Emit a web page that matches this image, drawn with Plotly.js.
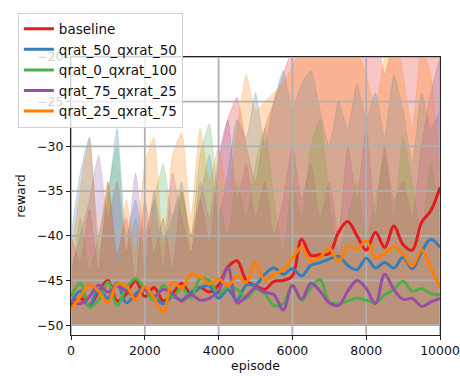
<!DOCTYPE html>
<html>
<head>
<meta charset="utf-8">
<script src="https://cdn.plot.ly/plotly-3.0.1.min.js"></script>
<style>html,body{margin:0;padding:0;background:#fff;}#chart{width:460px;height:377px;}</style>
</head>
<body>
<div id="chart"></div>
<script>
const episodes = [0,250,500,750,1000,1250,1500,1750,2000,2250,2500,2750,3000,3250,3500,3750,4000,4250,4500,4750,5000,5250,5500,5750,6000,6250,6500,6750,7000,7250,7500,7750,8000,8250,8500,8750,9000,9250,9500,9750,10000];

const seriesNames = ["baseline","qrat_50_qxrat_50","qrat_0_qxrat_100","qrat_75_qxrat_25","qrat_25_qxrat_75"];

const baselineMean = [-47.8,-47.0,-47.8,-46.2,-45.0,-47.3,-46.5,-45.0,-46.8,-45.8,-47.3,-46.5,-45.3,-46.5,-45.8,-46.3,-45.5,-43.5,-42.8,-45.0,-45.6,-46.0,-45.1,-45.0,-44.5,-40.4,-42.2,-42.1,-42.0,-39.6,-38.4,-40.0,-41.6,-39.6,-41.3,-38.9,-41.0,-41.6,-38.5,-37.2,-34.6];
const q50Mean = [-47.5,-46.2,-47.8,-46.0,-47.0,-45.3,-47.5,-46.5,-45.8,-46.8,-47.6,-46.8,-47.2,-46.3,-45.8,-45.6,-47.0,-46.0,-47.2,-45.5,-45.5,-44.3,-43.6,-44.3,-43.7,-44.5,-43.3,-43.0,-42.6,-42.3,-43.3,-43.8,-42.5,-43.6,-43.0,-43.6,-42.4,-43.7,-41.8,-40.4,-41.3];
const q0Mean = [-46.8,-45.3,-48.0,-47.2,-45.2,-47.8,-45.8,-44.8,-46.0,-47.2,-45.6,-46.8,-45.8,-47.0,-44.8,-45.0,-46.5,-45.7,-46.0,-47.0,-46.0,-46.5,-47.8,-47.6,-45.5,-47.2,-45.8,-44.9,-47.4,-47.6,-47.3,-47.0,-47.2,-47.5,-46.6,-46.0,-45.1,-46.2,-45.9,-46.5,-46.6];
const q75Mean = [-47.2,-47.6,-46.8,-45.5,-46.3,-45.6,-46.2,-46.8,-46.0,-46.8,-46.0,-46.5,-47.3,-46.6,-47.2,-47.0,-46.2,-43.5,-47.5,-46.8,-45.8,-46.3,-46.6,-48.3,-45.6,-47.1,-45.3,-46.2,-47.5,-47.8,-46.2,-45.0,-45.9,-47.6,-44.3,-46.0,-47.1,-47.0,-47.9,-47.4,-47.0];
const q25Mean = [-48.2,-46.8,-45.4,-46.2,-47.5,-45.4,-45.6,-47.2,-45.7,-47.0,-48.6,-45.2,-45.8,-44.3,-44.6,-45.4,-44.8,-45.6,-44.5,-45.2,-43.0,-45.0,-44.3,-43.8,-42.5,-41.3,-42.8,-42.4,-41.4,-42.9,-41.2,-41.5,-40.6,-42.4,-42.0,-41.2,-42.0,-43.4,-41.6,-43.6,-45.8];

const baselineMax = [-40,-43,-37,-44,-34,-42,-38,-45,-36,-42,-38,-44,-35,-40,-36,-41,-32,-27,-24.5,-30,-34,-28,-25,-22,-19,-17,-19,-16,-18,-15,-19,-16,-19,-17,-22,-18,-16,-19,-17,-15,-18];
const q50Max = [-40,-33,-29,-42,-36,-28,-40,-36,-42,-35,-40.4,-38,-34,-42,-36,-31,-38,-33,-27,-29,-24,-30,-25,-21.5,-26,-23,-21.5,-26,-30,-25,-28,-23,-27,-24,-29,-22,-26,-32,-24,-28,-26];
const q0Max = [-46,-38,-44,-40,-35,-30,-42,-38,-44,-36,-32,-38,-35,-40,-31,-27.5,-36,-40,-34,-38,-32,-28,-36,-42,-34,-38,-30,-27,-36,-42,-38,-34,-40,-36,-31,-38,-29,-34,-40,-32,-38];
const q75Max = [-44,-40,-36,-31,-38,-34,-42,-33,-40,-36,-44,-33,-38,-42,-34,-38,-31,-27,-36,-32,-38,-34,-40,-36,-30,-36,-32,-38,-34,-40,-30,-36,-28,-38,-30,-36,-34,-38,-30,-24,-20];
const q25Max = [-42,-35,-29,-40,-34,-44,-36,-42,-32,-29,-42,-31,-28.5,-38,-28,-34,-30,-36,-28,-22,-26,-25,-24,-23,-21,-19,-17,-18,-16,-18,-15,-19,-22,-25.5,-20,-17,-22,-28,-19,-22,-34];

const rewardFloor = -50;
const xTicks = [0,2000,4000,6000,8000,10000];
const yTicks = [-50,-45,-40,-35,-30,-25,-20];
const xRange = [0,10000];
const yRange = [-51.1,-20];

const means = [baselineMean,q50Mean,q0Mean,q75Mean,q25Mean];
const maxes = [baselineMax,q50Max,q0Max,q75Max,q25Max];
const colors = ["#e41a1c","#377eb8","#4daf4a","#984ea3","#ff7f00"];
const fillColors = ["rgba(228,26,28,0.25)","rgba(55,126,184,0.25)","rgba(77,175,74,0.25)","rgba(152,78,163,0.25)","rgba(255,127,0,0.25)"];

const traces = [];
// shaded bands
for (let i = 0; i < seriesNames.length; i++) {
  traces.push({
    x: episodes, y: episodes.map(() => rewardFloor), mode: 'lines',
    line: {width: 0, color: 'rgba(0,0,0,0)'}, showlegend: false, hoverinfo: 'skip'
  });
  traces.push({
    x: episodes, y: maxes[i], mode: 'lines', fill: 'tonexty',
    fillcolor: fillColors[i],
    line: {width: 0.8, color: fillColors[i], shape: 'spline', smoothing: 0.5},
    showlegend: false, hoverinfo: 'skip'
  });
}
// grid lines (drawn above bands, below mean lines, like matplotlib)
const gx = [], gy = [];
xTicks.forEach(t => { gx.push(t, t, null); gy.push(yRange[0], yRange[1], null); });
yTicks.forEach(t => { gx.push(xRange[0], xRange[1], null); gy.push(t, t, null); });
traces.push({x: gx, y: gy, mode: 'lines', line: {color: '#b0b0b0', width: 1.8}, showlegend: false, hoverinfo: 'skip'});
// mean lines
for (let i = 0; i < seriesNames.length; i++) {
  traces.push({
    x: episodes, y: means[i], mode: 'lines', name: seriesNames[i],
    line: {color: colors[i], width: 3, shape: 'spline', smoothing: 1}
  });
}

const font = {family: 'DejaVu Sans, sans-serif', size: 12.5, color: '#111'};
const layout = {
  width: 460, height: 377,
  margin: {l: 71, r: 20, t: 49, b: 42, pad: 0},
  paper_bgcolor: '#fff', plot_bgcolor: '#fff',
  font: font,
  showlegend: true,
  xaxis: {
    range: xRange, tickvals: xTicks, ticktext: xTicks.map(String),
    showgrid: false, zeroline: false,
    showline: true, mirror: true, linecolor: '#222', linewidth: 1,
    ticks: 'outside', ticklen: 4, tickcolor: '#222', tickwidth: 1,
    title: {text: 'episode', font: font, standoff: 4},
    tickfont: font
  },
  yaxis: {
    range: yRange, tickvals: yTicks,
    showgrid: false, zeroline: false,
    showline: true, mirror: true, linecolor: '#222', linewidth: 1,
    ticks: 'outside', ticklen: 4, tickcolor: '#222', tickwidth: 1,
    title: {text: 'reward', font: font, standoff: 8},
    tickfont: font
  },
  legend: {
    x: -0.144, y: 1.16, xanchor: 'left', yanchor: 'top',
    traceorder: 'normal',
    bgcolor: 'rgba(255,255,255,0.8)', bordercolor: '#d0d0d0', borderwidth: 1,
    font: {family: 'DejaVu Sans, sans-serif', size: 13.5, color: '#111'},
    tracegroupgap: 0
  }
};

Plotly.newPlot('chart', traces, layout, {staticPlot: true, displayModeBar: false});
</script>
</body>
</html>
